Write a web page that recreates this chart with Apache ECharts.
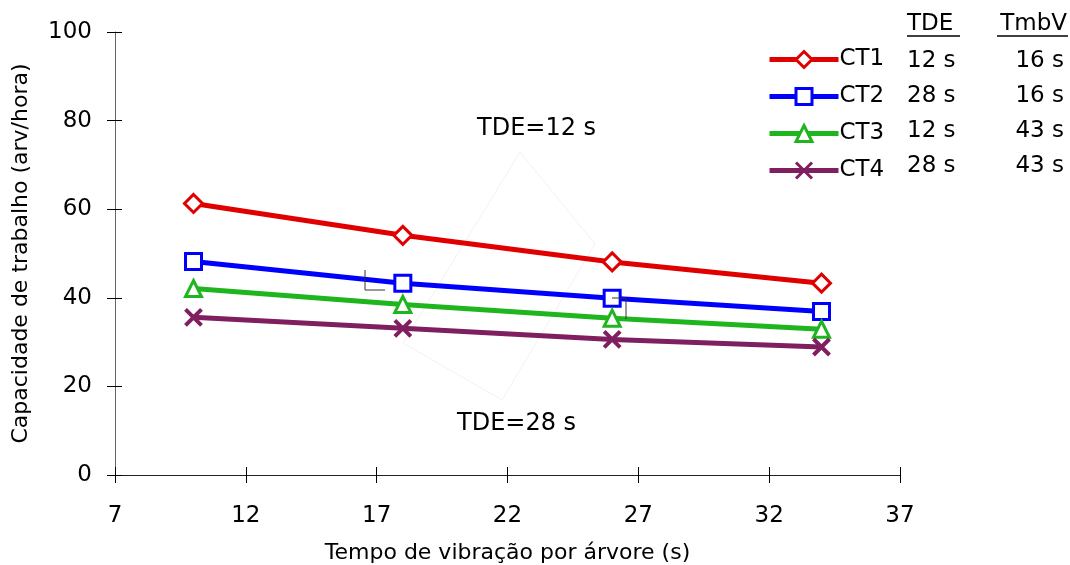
<!DOCTYPE html>
<html><head><meta charset="utf-8">
<script src="https://cdn.jsdelivr.net/npm/echarts@6/dist/echarts.min.js"></script>
<style>html,body{margin:0;padding:0;background:#fff}#c{width:1070px;height:565px}</style>
</head><body><div id="c"></div>
<script>
const xValues = [10, 18, 26, 34];
const ct1 = [61.3, 54.1, 48.1, 43.3];
const ct2 = [48.2, 43.3, 39.9, 36.9];
const ct3 = [42.1, 38.5, 35.4, 32.9];
const ct4 = [35.6, 33.1, 30.6, 28.9];
const seriesNames = ['CT1', 'CT2', 'CT3', 'CT4'];
const tdeValues = ['12 s', '28 s', '12 s', '28 s'];
const tmbvValues = ['16 s', '16 s', '43 s', '43 s'];
const xTitle = 'Tempo de vibração por árvore (s)';
const yTitle = 'Capacidade de trabalho (arv/hora)';

const FONT = '"DejaVu Sans", sans-serif';
const colors = ['#e00000', '#0000ff', '#1fb51f', '#7f1f5f'];
const symbols = ['diamond', 'rect', 'triangle', 'path://M0,0L10,10M10,0L0,10'];
const datasets = [ct1, ct2, ct3, ct4];

const chart = echarts.init(document.getElementById('c'));
const series = datasets.map((d, i) => ({
  name: seriesNames[i],
  type: 'line',
  data: d.map((v, k) => [xValues[k], v]),
  symbol: symbols[i],
  symbolSize: i === 3 ? 16 : (i === 0 ? 18 : 16),
  showAllSymbol: true,
  lineStyle: { color: colors[i], width: 5 },
  itemStyle: i === 3
    ? { color: colors[i], borderColor: colors[i], borderWidth: 4 }
    : { color: '#fff', borderColor: colors[i], borderWidth: 3 },
  emphasis: { disabled: true },
  z: 3
}));

const rowY = [61, 96, 131, 166];
const legendTexts = [];
tdeValues.forEach((t, i) => {
  legendTexts.push({ type: 'text', x: 907, y: rowY[i], style: { text: t, font: '23px ' + FONT, fill: '#000', verticalAlign: 'middle' } });
  legendTexts.push({ type: 'text', x: 1064, y: rowY[i], style: { text: tmbvValues[i], font: '23px ' + FONT, fill: '#000', align: 'right', verticalAlign: 'middle' } });
});

chart.setOption({
  animation: false,
  grid: { left: 115, right: 170, top: 32, bottom: 90, containLabel: false, outerBoundsMode: 'none' },
  xAxis: [{
    type: 'value', min: 7, max: 37, interval: 5,
    axisLine: { lineStyle: { color: '#222', width: 1 } },
    axisTick: { length: 8, lineStyle: { color: '#000' } },
    axisLabel: { fontSize: 23, color: '#000', fontFamily: FONT, margin: 30 },
    splitLine: { show: false },
    name: xTitle, nameLocation: 'middle', nameGap: 67,
    nameTextStyle: { fontSize: 22, color: '#000', fontFamily: FONT }
  }, {
    type: 'value', min: 7, max: 37, interval: 5, position: 'bottom',
    axisLine: { show: false }, axisLabel: { show: false }, splitLine: { show: false },
    axisTick: { inside: true, length: 8, lineStyle: { color: '#000' } }
  }],
  yAxis: [{
    type: 'value', min: 0, max: 100, interval: 20,
    axisLine: { show: true, lineStyle: { color: '#666', width: 1 } },
    axisTick: { show: true, length: 8, lineStyle: { color: '#000' } },
    axisLabel: { fontSize: 23, color: '#000', fontFamily: FONT, margin: 23 },
    splitLine: { show: false },
    name: yTitle, nameLocation: 'middle', nameGap: 83, nameRotate: 90,
    nameTextStyle: { fontSize: 22, color: '#000', fontFamily: FONT }
  }, {
    type: 'value', min: 0, max: 100, interval: 20, position: 'left',
    axisLine: { show: false }, axisLabel: { show: false }, splitLine: { show: false },
    axisTick: { show: true, inside: true, length: 7, lineStyle: { color: '#000' } }
  }],
  legend: {
    orient: 'vertical', left: 762, top: 43,
    itemWidth: 69, itemHeight: 20, itemGap: 14,
    lineStyle: { width: 5 },
    itemStyle: { borderWidth: 3 },
    textStyle: { fontSize: 23, lineHeight: 23, color: '#000', fontFamily: FONT, padding: [0, 0, 0, -4] },
    selectedMode: false,
    data: seriesNames
  },
  series: series,
  graphic: [
    { type: 'text', x: 907, y: 24, style: { text: 'TDE', font: '23px ' + FONT, fill: '#000', verticalAlign: 'middle' } },
    { type: 'line', shape: { x1: 907, y1: 36, x2: 960, y2: 36 }, style: { stroke: '#000', lineWidth: 1.5 } },
    { type: 'text', x: 1067, y: 24, style: { text: 'TmbV', font: '23px ' + FONT, fill: '#000', align: 'right', verticalAlign: 'middle' } },
    { type: 'line', shape: { x1: 997, y1: 36, x2: 1068, y2: 36 }, style: { stroke: '#000', lineWidth: 1.5 } },
    { type: 'text', x: 477, y: 129, style: { text: 'TDE=12 s', font: '24px ' + FONT, fill: '#000', verticalAlign: 'middle' } },
    { type: 'text', x: 457, y: 424, style: { text: 'TDE=28 s', font: '24px ' + FONT, fill: '#000', verticalAlign: 'middle' } },
    { type: 'polyline', z: 1, shape: { points: [[520, 152], [595, 244], [502, 400], [403, 343], [520, 152]] }, style: { stroke: '#f2f2f2', lineWidth: 1, fill: null } },
    { type: 'polyline', z: 5, shape: { points: [[365, 270], [365, 290], [385, 290]] }, style: { stroke: '#333', lineWidth: 1, fill: null } },
    { type: 'polyline', z: 5, shape: { points: [[612, 298], [626, 298], [626, 319]] }, style: { stroke: '#333', lineWidth: 1, fill: null } },
    ...legendTexts
  ]
});
</script></body></html>
